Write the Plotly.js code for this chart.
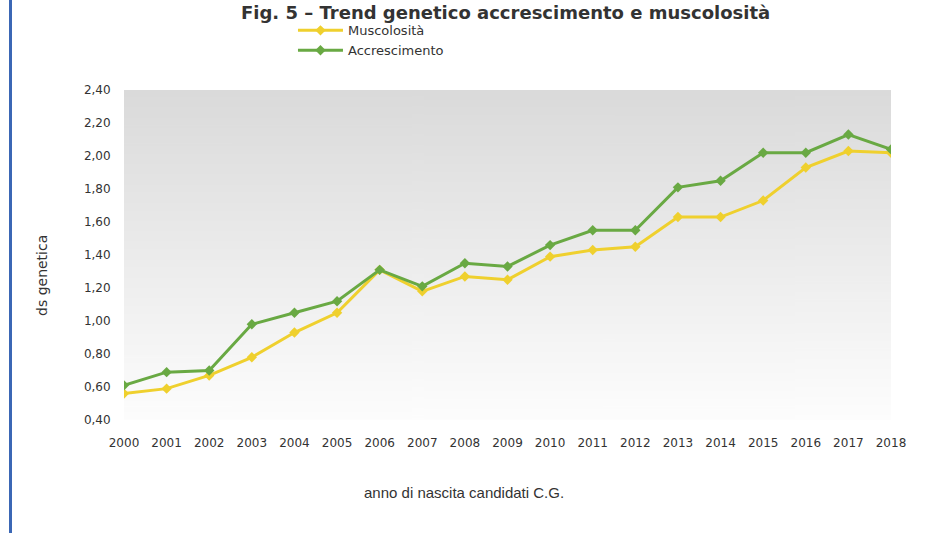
<!DOCTYPE html>
<html>
<head>
<meta charset="utf-8">
<script src="https://cdn.plot.ly/plotly-3.0.1.min.js"></script>
<style>
  html, body { margin: 0; padding: 0; background: #ffffff; }
  #wrap { position: relative; width: 930px; height: 533px; }
  #chart { width: 930px; height: 533px; }
  #edge { position: absolute; left: 9px; top: 0; width: 3px; height: 533px; background: #3b67b5; }
</style>
</head>
<body>
<div id="wrap">
  <div id="chart"></div>
  <div id="edge"></div>
</div>
<script>
const years = [2000, 2001, 2002, 2003, 2004, 2005, 2006, 2007, 2008, 2009,
               2010, 2011, 2012, 2013, 2014, 2015, 2016, 2017, 2018];
const muscolosita = [0.56, 0.59, 0.67, 0.78, 0.93, 1.05, 1.31, 1.18, 1.27, 1.25,
                     1.39, 1.43, 1.45, 1.63, 1.63, 1.73, 1.93, 2.03, 2.02];
const accrescimento = [0.61, 0.69, 0.70, 0.98, 1.05, 1.12, 1.31, 1.21, 1.35, 1.33,
                       1.46, 1.55, 1.55, 1.81, 1.85, 2.02, 2.02, 2.13, 2.04];
const seriesNames = ['Muscolosità', 'Accrescimento'];
const chartTitle = 'Fig. 5 – Trend genetico accrescimento e muscolosità';
const xTitle = 'anno di nascita candidati C.G.';
const yTitle = 'ds genetica';

// vertical gradient background for the plot area
function gradientURL() {
  const c = document.createElement('canvas');
  c.width = 4; c.height = 256;
  const g = c.getContext('2d');
  const gr = g.createLinearGradient(0, 0, 0, 256);
  gr.addColorStop(0, '#dadada');
  gr.addColorStop(1, '#fdfdfd');
  g.fillStyle = gr;
  g.fillRect(0, 0, 4, 256);
  return c.toDataURL('image/png');
}

const tickFont = { family: 'DejaVu Sans, Verdana, sans-serif', size: 12, color: '#333333' };

const traces = [
  {
    x: years, y: muscolosita, name: seriesNames[0], type: 'scatter', mode: 'lines+markers',
    line: { color: '#efd02e', width: 3 },
    marker: { color: '#efd02e', symbol: 'diamond', size: 8 }
  },
  {
    x: years, y: accrescimento, name: seriesNames[1], type: 'scatter', mode: 'lines+markers',
    line: { color: '#69a943', width: 3 },
    marker: { color: '#69a943', symbol: 'diamond', size: 8 }
  }
];

const layout = {
  width: 930, height: 533,
  margin: { l: 124, r: 39, t: 90, b: 113 },
  paper_bgcolor: '#ffffff',
  plot_bgcolor: 'rgba(0,0,0,0)',
  separators: ',.',
  showlegend: true,
  legend: {
    x: 0.2203, y: 1.226, xanchor: 'left', yanchor: 'top',
    itemwidth: 45,
    font: { family: 'DejaVu Sans, Verdana, sans-serif', size: 13, color: '#333333' },
    bgcolor: 'rgba(0,0,0,0)', tracegroupgap: 0
  },
  xaxis: {
    range: [2000, 2018], tickmode: 'linear', tick0: 2000, dtick: 1,
    showgrid: false, zeroline: false, showline: false,
    ticks: 'outside', ticklen: 12, tickcolor: 'rgba(0,0,0,0)',
    tickfont: tickFont, fixedrange: true
  },
  yaxis: {
    range: [0.4, 2.4], tickmode: 'linear', tick0: 0.4, dtick: 0.2, tickformat: '.2f',
    showgrid: false, zeroline: false, showline: false,
    ticks: 'outside', ticklen: 10, tickcolor: 'rgba(0,0,0,0)',
    tickfont: tickFont, fixedrange: true
  },
  images: [{
    source: gradientURL(), xref: 'paper', yref: 'paper', x: 0, y: 1,
    sizex: 1, sizey: 1, sizing: 'stretch', layer: 'below', xanchor: 'left', yanchor: 'top'
  }],
  annotations: [
    {
      text: '<b>' + chartTitle + '</b>', xref: 'paper', yref: 'paper',
      x: 0.497, y: (420 - 0) / 330, xanchor: 'center', yanchor: 'top', showarrow: false,
      font: { family: 'DejaVu Sans, Verdana, sans-serif', size: 18, color: '#333333' }
    },
    {
      text: xTitle, xref: 'paper', yref: 'paper',
      x: (464 - 124) / 767, y: -(492 - 420) / 330, xanchor: 'center', yanchor: 'middle', showarrow: false,
      font: { family: 'Liberation Sans, Arial, sans-serif', size: 15, color: '#333333' }
    },
    {
      text: yTitle, xref: 'paper', yref: 'paper', textangle: -90,
      x: -(124 - 42) / 767, y: (420 - 276) / 330, xanchor: 'center', yanchor: 'middle', showarrow: false,
      font: { family: 'DejaVu Sans, Verdana, sans-serif', size: 14, color: '#333333' }
    }
  ]
};

Plotly.newPlot('chart', traces, layout, { displayModeBar: false, staticPlot: true });
</script>
</body>
</html>
